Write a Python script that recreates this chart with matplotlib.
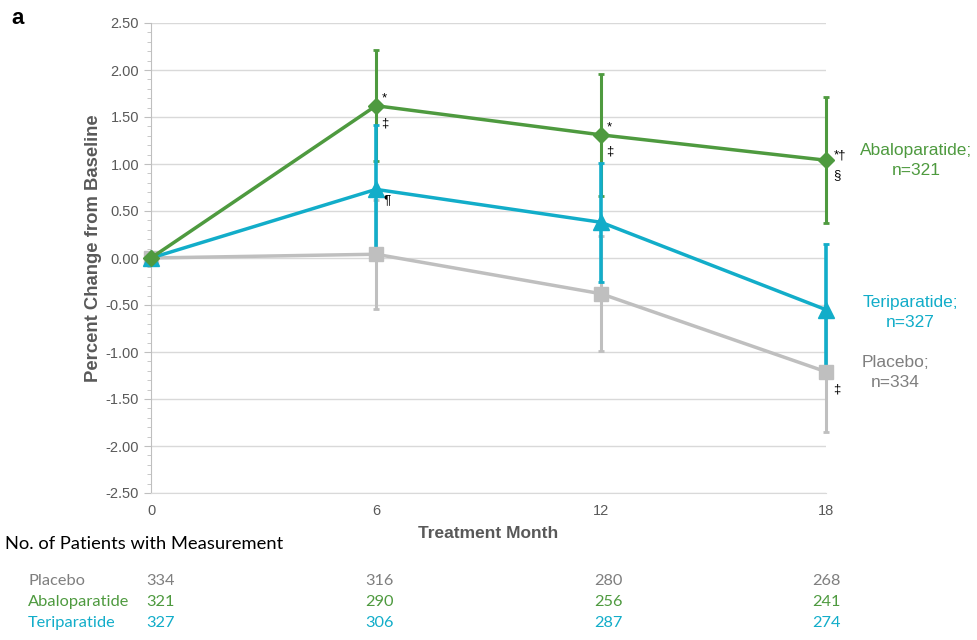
import matplotlib.pyplot as plt
import numpy as np
from matplotlib.ticker import MultipleLocator
from matplotlib.transforms import blended_transform_factory

# Data
months = [0, 6, 12, 18]

placebo = [0.0, 0.04, -0.38, -1.21]
placebo_err = [0.0, 0.58, 0.61, 0.64]
abalo = [0.0, 1.62, 1.31, 1.04]
abalo_err = [0.0, 0.59, 0.65, 0.67]
teri = [0.0, 0.73, 0.38, -0.55]
teri_err = [0.0, 0.68, 0.63, 0.70]

groups = ['Placebo', 'Abaloparatide', 'Teriparatide']
patients_placebo = [334, 316, 280, 268]
patients_abalo = [321, 290, 256, 241]
patients_teri = [327, 306, 287, 274]

green = '#4e9a3f'
cyan = '#12adc9'
gray = '#bfbfbf'
gray_text = '#7f7f7f'
axis_text = '#595959'

plt.rcParams['font.family'] = ['Liberation Sans', 'DejaVu Sans']

fig = plt.figure(figsize=(9.77, 6.4), dpi=100)
ax = fig.add_axes([151 / 977, 1 - 493 / 640, 675 / 977, 470 / 640])

# Error bars first, then lines with markers on top
ebs = []
ebs.append(ax.errorbar(months, placebo, yerr=placebo_err, fmt='none', ecolor=gray,
                       elinewidth=2.2, capsize=2.5, capthick=2, zorder=2))
ebs.append(ax.errorbar(months, abalo, yerr=abalo_err, fmt='none', ecolor=green,
                       elinewidth=2.2, capsize=2.5, capthick=2, zorder=2.1))
ebs.append(ax.errorbar(months, teri, yerr=teri_err, fmt='none', ecolor=cyan,
                       elinewidth=2.6, capsize=2.5, capthick=2, zorder=2.2))
for eb in ebs:
    for part in eb.lines[1] + eb.lines[2]:
        part.set_clip_on(False)

lines = []
lines += ax.plot(months, placebo, color=gray, lw=2.5, marker='s', ms=10, zorder=3)
lines += ax.plot(months, teri, color=cyan, lw=2.5, marker='^', ms=11, zorder=3.1)
lines += ax.plot(months, abalo, color=green, lw=2.5, marker='D', ms=8, zorder=3.2)
for ln in lines:
    ln.set_clip_on(False)

ax.set_xlim(0, 18)
ax.set_ylim(-2.5, 2.5)
ax.set_xticks(months)
ax.yaxis.set_major_locator(MultipleLocator(0.5))
ax.yaxis.set_minor_locator(MultipleLocator(0.1))
ax.yaxis.set_major_formatter(plt.FuncFormatter(lambda v, p: f'{v:.2f}'))
ax.grid(axis='y', color='#d9d9d9', lw=1)
ax.set_axisbelow(True)
for s in ['top', 'right']:
    ax.spines[s].set_visible(False)
ax.spines['left'].set_color('#bfbfbf')
ax.spines['bottom'].set_color('#d9d9d9')
ax.tick_params(axis='y', which='major', length=5, color='#bfbfbf',
               labelsize=10.5, labelcolor=axis_text)
ax.tick_params(axis='y', which='minor', length=3, color='#bfbfbf')
ax.tick_params(axis='x', length=0, labelsize=10.5, labelcolor=axis_text, pad=8)
ax.set_ylabel('Percent Change from Baseline', fontsize=13.3, fontweight='bold',
              color=axis_text)
ax.yaxis.set_label_coords(-0.073, 0.52)
ax.set_xlabel('Treatment Month', fontsize=12.5, fontweight='bold',
              color=axis_text, labelpad=6)

# Significance symbols
sym = dict(fontsize=9.5, color='black', zorder=5)
ax.text(6.15, 1.67, '*', **sym)
ax.text(6.15, 1.40, '‡', **sym)
ax.text(6.2, 0.58, '¶', **sym)
ax.text(12.15, 1.36, '*', **sym)
ax.text(12.15, 1.10, '‡', **sym)
ax.text(18.2, 1.06, '*†', **sym)
ax.text(18.2, 0.85, '§', **sym)
ax.text(18.2, -1.43, '‡', **sym)

# Series labels on the right
ax.text(20.4, 1.04, 'Abaloparatide;\nn=321', color=green, fontsize=12.5,
        ha='center', va='center', linespacing=1.4)
ax.text(20.25, -0.58, 'Teriparatide;\nn=327', color=cyan, fontsize=12.5,
        ha='center', va='center', linespacing=1.4)
ax.text(19.85, -1.22, 'Placebo;\nn=334', color=gray_text, fontsize=12.5,
        ha='center', va='center', linespacing=1.4)

for t in ax.texts:
    t.set_clip_on(False)

fig.text(11 / 977, 1 - 18 / 640, 'a', fontsize=16, fontweight='bold',
         va='center', ha='left')

# Patient counts table
fig.text(5 / 977, 1 - 544 / 640, 'No. of Patients with Measurement',
         fontsize=13.2, color='black', va='center', ha='left', family='Lato')
trans = blended_transform_factory(ax.transData, fig.transFigure)
counts = [patients_placebo, patients_abalo, patients_teri]
colors = [gray_text, green, cyan]
row_y = [581, 602, 623]
count_x = [0.25, 6.1, 12.2, 18.0]
for name, vals, col, yy in zip(groups, counts, colors, row_y):
    fig.text(28 / 977, 1 - yy / 640, name, fontsize=11.8, color=col,
             va='center', ha='left', family='Lato')
    for xv, v in zip(count_x, vals):
        ax.text(xv, 1 - yy / 640, str(v), transform=trans, fontsize=11.8,
                color=col, va='center', ha='center', family='Lato',
                clip_on=False)

fig.savefig('out.png', dpi=100)
